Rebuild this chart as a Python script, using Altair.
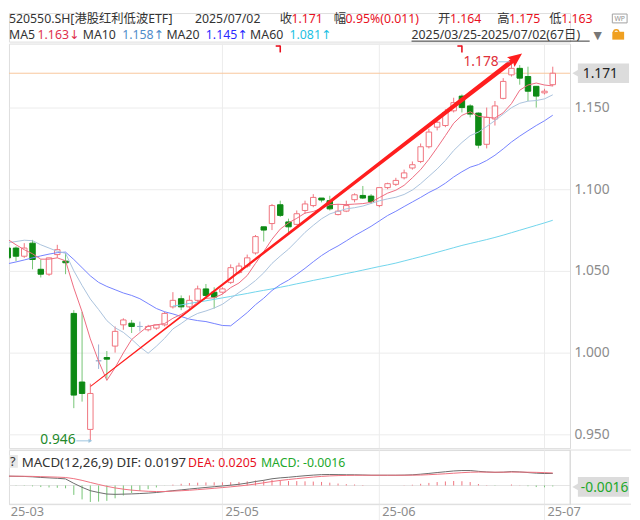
import math
import altair as alt
import pandas as pd

# ---------------- data ----------------
opens = [1.064, 1.064, 1.059, 1.067, 1.051, 1.048, 1.060, 1.056, 1.024, 0.982,
         0.953, 0.995, 0.997, 1.004, 1.017, 1.018, 1.016, 1.014, 1.015, 1.017,
         1.028, 1.033, 1.028, 1.032, 1.039, 1.037, 1.037, 1.043, 1.049, 1.053,
         1.061, 1.077, 1.079, 1.0905, 1.080, 1.0785, 1.087, 1.090, 1.0946, 1.093,
         1.0845, 1.0866, 1.0936, 1.0962, 1.0958, 1.090, 1.101, 1.103, 1.107, 1.113,
         1.117, 1.126, 1.138, 1.139, 1.148, 1.157, 1.151, 1.1466, 1.1275, 1.143,
         1.1556, 1.170, 1.174, 1.169, 1.163, 1.159, 1.164]
highs = [1.066, 1.065, 1.067, 1.069, 1.057, 1.058, 1.066, 1.061, 1.026, 1.025,
         0.981, 1.005, 1.001, 1.016, 1.021, 1.020, 1.019, 1.017, 1.017, 1.025,
         1.037, 1.035, 1.035, 1.041, 1.042, 1.040, 1.040, 1.054, 1.055, 1.060,
         1.072, 1.077, 1.091, 1.093, 1.082, 1.087, 1.093, 1.097, 1.0946, 1.096,
         1.091, 1.093, 1.0975, 1.102, 1.097, 1.101, 1.104, 1.107, 1.112, 1.117,
         1.128, 1.137, 1.143, 1.149, 1.156, 1.158, 1.152, 1.147, 1.150, 1.154,
         1.168, 1.178, 1.176, 1.175, 1.163, 1.1615, 1.175]
lows = [1.057, 1.056, 1.058, 1.051, 1.046, 1.047, 1.058, 1.048, 0.966, 0.970,
        0.946, 0.990, 0.984, 1.000, 1.014, 1.012, 1.013, 1.013, 1.014, 1.016,
        1.027, 1.026, 1.026, 1.031, 1.034, 1.027, 1.036, 1.042, 1.048, 1.052,
        1.060, 1.068, 1.075, 1.083, 1.073, 1.078, 1.085, 1.089, 1.092, 1.087,
        1.084, 1.086, 1.092, 1.094, 1.091, 1.089, 1.100, 1.102, 1.106, 1.112,
        1.116, 1.125, 1.136, 1.138, 1.147, 1.147, 1.144, 1.125, 1.125, 1.139,
        1.155, 1.169, 1.164, 1.154, 1.150, 1.158, 1.163]
closes = [1.058, 1.059, 1.064, 1.057, 1.048, 1.058, 1.063, 1.055, 0.974, 0.975,
          0.975, 0.995, 0.996, 1.013, 1.020, 1.016, 1.016, 1.016, 1.017, 1.024,
          1.032, 1.028, 1.032, 1.039, 1.035, 1.034, 1.039, 1.052, 1.053, 1.058,
          1.071, 1.075, 1.090, 1.084, 1.077, 1.085, 1.091, 1.095, 1.0934, 1.088,
          1.0866, 1.090, 1.0966, 1.0946, 1.0924, 1.101, 1.1034, 1.1054, 1.110, 1.115,
          1.126, 1.135, 1.141, 1.147, 1.153, 1.150, 1.146, 1.127, 1.144, 1.151,
          1.166, 1.174, 1.168, 1.160, 1.157, 1.160, 1.171]

ma5 = [1.0693, 1.066, 1.063, 1.0605, 1.0572, 1.0572, 1.058, 1.0562, 1.0396, 1.025,
       1.0084, 0.9948, 0.983, 0.9908, 0.9998, 1.008, 1.0122, 1.0162, 1.017, 1.0178,
       1.021, 1.0234, 1.0266, 1.031, 1.0332, 1.0336, 1.0358, 1.0398, 1.0426, 1.0472,
       1.0546, 1.0618, 1.0694, 1.0756, 1.0794, 1.0822, 1.0854, 1.0864, 1.0883, 1.0905,
       1.0908, 1.0906, 1.0909, 1.0912, 1.092, 1.0949, 1.0976, 1.0994, 1.1024, 1.107,
       1.112, 1.1183, 1.1254, 1.1328, 1.1404, 1.1452, 1.1474, 1.1446, 1.144, 1.1436,
       1.1468, 1.1524, 1.1606, 1.1638, 1.165, 1.1638, 1.1632]
ma10 = [1.0673, 1.068, 1.0688, 1.0685, 1.066, 1.064, 1.062, 1.0608, 1.0501, 1.0411,
        1.0328, 1.0264, 1.0196, 1.0152, 1.0124, 1.0082, 1.0035, 0.9996, 1.0039, 1.0088,
        1.0145, 1.0178, 1.0214, 1.024, 1.0255, 1.0273, 1.0296, 1.0332, 1.0368, 1.0402,
        1.0441, 1.0488, 1.0546, 1.0591, 1.0633, 1.0684, 1.0736, 1.0779, 1.0819, 1.0849,
        1.0865, 1.088, 1.0887, 1.0897, 1.0913, 1.0929, 1.0941, 1.0951, 1.0968, 1.0995,
        1.1034, 1.1079, 1.1124, 1.1176, 1.1237, 1.1286, 1.1328, 1.135, 1.1384, 1.142,
        1.146, 1.1499, 1.1526, 1.1539, 1.1543, 1.1553, 1.1578]
ma20 = [1.0544, 1.0555, 1.0567, 1.058, 1.0592, 1.0603, 1.0612, 1.0615, 1.057, 1.052,
        1.047, 1.043, 1.0405, 1.0385, 1.0365, 1.035, 1.033, 1.030, 1.027, 1.025,
        1.0237, 1.0221, 1.0205, 1.0196, 1.019, 1.0178, 1.0166, 1.0164, 1.0204, 1.0245,
        1.0293, 1.0333, 1.038, 1.0416, 1.0444, 1.0479, 1.0516, 1.0556, 1.0594, 1.0626,
        1.0653, 1.0684, 1.0716, 1.0744, 1.0773, 1.0806, 1.0839, 1.0865, 1.0894, 1.0922,
        1.095, 1.098, 1.1005, 1.1037, 1.1075, 1.1107, 1.1135, 1.1151, 1.1176, 1.1208,
        1.1247, 1.1289, 1.1325, 1.1358, 1.139, 1.1419, 1.1453]
ma60_start = 20
ma60 = [1.0285, 1.0292, 1.0301, 1.0309, 1.0317, 1.0326, 1.0335, 1.0344, 1.0353, 1.0362,
        1.0372, 1.0381, 1.039, 1.040, 1.041, 1.0421, 1.0431, 1.0442, 1.0452, 1.0462,
        1.0473, 1.0484, 1.0494, 1.0505, 1.0516, 1.0527, 1.0537, 1.0548, 1.0561, 1.0574,
        1.0587, 1.060, 1.0614, 1.0628, 1.0642, 1.0656, 1.0668, 1.068, 1.0692, 1.0705,
        1.0719, 1.0734, 1.0749, 1.0764, 1.0779, 1.0794, 1.081]

dif = [0.0153, 0.0150, 0.0148, 0.0142, 0.0132, 0.0125, 0.0118, 0.0108, 0.0035, -0.0030,
       -0.0085, -0.0115, -0.0140, -0.0145, -0.0142, -0.0138, -0.0132, -0.0125, -0.0115, -0.0100,
       -0.0085, -0.0072, -0.0058, -0.0045, -0.0032, -0.0020, -0.0008, 0.0005, 0.0020, 0.0040,
       0.0065, 0.0085, 0.0110, 0.0125, 0.0135, 0.0148, 0.0160, 0.0170, 0.0178, 0.0180,
       0.0178, 0.0176, 0.0175, 0.0172, 0.0168, 0.0168, 0.0168, 0.0168, 0.0170, 0.0175,
       0.0185, 0.0198, 0.0212, 0.0225, 0.0238, 0.0245, 0.0245, 0.0232, 0.0222, 0.0215,
       0.0218, 0.0228, 0.0222, 0.0212, 0.0202, 0.0196, 0.0197]
dea = [0.0153, 0.0152, 0.0151, 0.0149, 0.0145, 0.0141, 0.0137, 0.0131, 0.0112, 0.0084,
       0.0050, 0.0017, -0.0014, -0.0040, -0.0060, -0.0076, -0.0087, -0.0095, -0.0099, -0.0099,
       -0.0092, -0.0086, -0.0078, -0.0068, -0.0057, -0.0046, -0.0034, -0.0022, -0.0009, 0.0006,
       0.0024, 0.0044, 0.0065, 0.0083, 0.0098, 0.0112, 0.0126, 0.0138, 0.0149, 0.0157,
       0.0162, 0.0165, 0.0167, 0.0168, 0.0168, 0.0168, 0.0168, 0.0168, 0.0168, 0.0169,
       0.0171, 0.0177, 0.0184, 0.0192, 0.0201, 0.0210, 0.0217, 0.0220, 0.0219, 0.0218,
       0.0218, 0.0220, 0.0220, 0.0218, 0.0215, 0.0211, 0.0205]
macd = [0.0, -0.0004, -0.0006, -0.0014, -0.0026, -0.0032, -0.0038, -0.0046, -0.0154, -0.0228,
        -0.027, -0.0264, -0.0252, -0.021, -0.0164, -0.0124, -0.009, -0.006, -0.0032, -0.0002,
        0.0014, 0.0028, 0.004, 0.0046, 0.005, 0.0052, 0.0052, 0.0054, 0.0058, 0.0068,
        0.0082, 0.0082, 0.009, 0.0084, 0.0074, 0.0072, 0.0068, 0.0064, 0.0058, 0.0046,
        0.0032, 0.0022, 0.0016, 0.0008, 0.0, 0.0, 0.0, 0.0, 0.0004, 0.0012,
        0.0028, 0.0042, 0.0056, 0.0066, 0.0074, 0.007, 0.0056, 0.0024, 0.0006, -0.0006,
        0.0, 0.0016, 0.0004, -0.0012, -0.0026, -0.003, -0.0016]

price_ticks = [0.95, 1.0, 1.05, 1.1, 1.15]
month_labels = ["25-03", "25-05", "25-06", "25-07"]
month_index = [0, 26, 45, 65]
event_index = [33, 55]
last_close = 1.171
low_mark = (10, 0.946)
high_mark = (61, 1.178)
arrow_from = (10.07, 0.9795)
arrow_to = (62.28, 1.1831)

# ---------------- styles / layout ----------------
FONT = "Noto Sans, DejaVu Sans, Noto Sans CJK SC"
RED_C = "#f0737d"
GREEN_C = "#0d8a14"
GREEN_W = "#74c474"
DOJI_C = "#9db4d4"
MA5C, MA10C, MA20C, MA60C = "#ee6a7e", "#a9c2dc", "#7381ff", "#6fd4ec"
DARK = "#333333"
TRED = "#e8101e"
GRID = "#ececec"
AXL = "#8c8c8c"

W = 570
STEP = 8.39
X0 = 0.15
XDOM = [X0, X0 + W / STEP]
PH = 411
PPX = 1660.0
PDOM = [1.15 - (PH - 65) / PPX, 1.15 + 65 / PPX]
MH = 55
MPX = 620.0
MZ = 36
MDOM = [-(MH - MZ) / MPX, MZ / MPX]

xs = alt.Scale(domain=XDOM, nice=False, zero=False)
ys = alt.Scale(domain=PDOM, nice=False, zero=False)
ms = alt.Scale(domain=MDOM, nice=False, zero=False)
YAX = alt.Axis(orient="right", values=price_ticks, format=".3f", title=None,
               grid=True, gridColor=GRID, ticks=False, domain=True, domainColor="#dadada",
               labelColor=AXL, labelFontSize=14, labelFont=FONT, labelPadding=4)


def X(f):
    return alt.X(f, scale=xs, axis=None)


def Y(f):
    return alt.Y(f, scale=ys, axis=YAX)


def kind(o, c):
    if c > o:
        return "up"
    if c < o:
        return "down"
    return "flat"


n = len(closes)
candles = pd.DataFrame({"i": list(range(n)), "open": opens, "high": highs,
                        "low": lows, "close": closes})
candles["kind"] = [kind(o, c) for o, c in zip(opens, closes)]
KD = ["up", "down", "flat"]


def one():
    return alt.Chart(pd.DataFrame({"a": [0]}))


def ptext(t, px, py, color, size=13, align="left", baseline="alphabetic"):
    return alt.Chart(pd.DataFrame({"t": [t]})).mark_text(
        align=align, baseline=baseline, color=color, fontSize=size, font=FONT
    ).encode(x=alt.value(px), y=alt.value(py), text="t:N")


def prect(x1, x2, y1, y2, color):
    return one().mark_rect(color=color).encode(
        x=alt.value(x1), x2=alt.value(x2), y=alt.value(y1), y2=alt.value(y2))


def prule(x1, x2, y1, y2, color, w=1):
    return one().mark_rule(color=color, strokeWidth=w).encode(
        x=alt.value(x1), x2=alt.value(x2), y=alt.value(y1), y2=alt.value(y2))


# ---------------- header ----------------
HB1, HB2 = 10, 26
HF = 12.5
header_parts = [
    ("520550.SH[港股红利低波ETF]", 0, HB1, DARK),
    ("2025/07/02", 189, HB1, DARK),
    ("收", 275, HB1, DARK), ("1.171", 287, HB1, TRED),
    ("幅", 330, HB1, DARK), ("0.95%(0.011)", 342, HB1, TRED),
    ("开", 436, HB1, DARK), ("1.164", 448, HB1, TRED),
    ("高", 496, HB1, DARK), ("1.175", 508, HB1, TRED),
    ("低", 549, HB1, DARK), ("1.163", 561, HB1, TRED),
    ("MA5", 0, HB2, DARK), ("1.163↓", 29, HB2, "#e0304e"),
    ("MA10", 75, HB2, DARK), ("1.158↑", 115, HB2, "#4f8cc9"),
    ("MA20", 160, HB2, DARK), ("1.145↑", 200, HB2, "#2a2aff"),
    ("MA60", 245, HB2, DARK), ("1.081↑", 285, HB2, "#22bfe3"),
    ("2025/03/25-2025/07/02(67日)", 409, HB2, DARK),
]
hdf = pd.DataFrame(header_parts, columns=["t", "px", "py", "col"])
header_text = alt.Chart(hdf).mark_text(align="left", baseline="alphabetic",
                                       fontSize=HF, font=FONT).encode(
    x=alt.X("px:Q", scale=None, axis=None),
    y=alt.Y("py:Q", scale=None, axis=None),
    text="t:N",
    color=alt.Color("col:N", scale=None),
)
wp_icon = one().mark_rect(filled=False, stroke="#a0a0a0", strokeWidth=1).encode(
    x=alt.value(613), x2=alt.value(628), y=alt.value(1), y2=alt.value(10))
header = alt.layer(
    header_text,
    ptext("▼", 594, HB2, "#777777", size=11),
    prule(409, 590, 28.5, 28.5, DARK),
    wp_icon,
    ptext("WP", 620.5, 8.5, "#909090", size=7, align="center"),
    one().mark_arc(radius=3.4, radius2=1.8, theta=4.7124, theta2=7.854,
                   color="#f0a020").encode(x=alt.value(617), y=alt.value(19.5)),
    prect(613, 625, 19, 27, "#f0a020"),
).properties(width=W, height=29)

# ---------------- price panel ----------------
vgrid_df = pd.DataFrame({"i": month_index[1:]})
vgrid = alt.Chart(vgrid_df).mark_rule(color=GRID, strokeWidth=1).encode(x=X("i:Q"))

last_line = alt.Chart(pd.DataFrame({"p": [last_close]})).mark_rule(
    color="#f8c69c", strokeWidth=1).encode(y=Y("p:Q"))

wick = alt.Chart(candles).mark_rule(strokeWidth=1, clip=True).encode(
    x=X("i:Q"), y=Y("low:Q"), y2="high:Q",
    color=alt.Color("kind:N", scale=alt.Scale(domain=KD, range=[RED_C, GREEN_W, DOJI_C]),
                    legend=None),
)
body = alt.Chart(candles).transform_calculate(
    xl="datum.i - 0.33", xr="datum.i + 0.33"
).mark_rect(strokeWidth=1, clip=True).encode(
    x=X("xl:Q"), x2="xr:Q",
    y=Y("open:Q"), y2="close:Q",
    fill=alt.Fill("kind:N", scale=alt.Scale(domain=KD, range=["#ffffff", GREEN_C, DOJI_C]),
                  legend=None),
    stroke=alt.Stroke("kind:N", scale=alt.Scale(domain=KD, range=[RED_C, GREEN_C, DOJI_C]),
                      legend=None),
)


def ma_layer(vals, start, color):
    df = pd.DataFrame({"i": list(range(start, start + len(vals))), "v": vals})
    return alt.Chart(df).mark_line(color=color, strokeWidth=1, clip=True).encode(
        x=X("i:Q"), y=Y("v:Q"))


ma_layers = [ma_layer(ma60, ma60_start, MA60C), ma_layer(ma20, 0, MA20C),
             ma_layer(ma10, 0, MA10C), ma_layer(ma5, 0, MA5C)]

# event markers at the top of the panel
ev_df = pd.DataFrame({"i": event_index, "il": [k - 0.55 for k in event_index]})
ev_v = alt.Chart(ev_df).mark_rule(color="#e8101e", strokeWidth=1.6).encode(
    x=X("i:Q"), y=alt.value(2), y2=alt.value(9))
ev_h = alt.Chart(ev_df).mark_rule(color="#e8101e", strokeWidth=1.6).encode(
    x=X("il:Q"), x2="i:Q", y=alt.value(2.5))

# tapered hand-drawn arrow
ux = (arrow_to[0] - arrow_from[0]) * STEP
uy = (arrow_to[1] - arrow_from[1]) * PPX
ul = (ux ** 2 + uy ** 2) ** 0.5
trail_df = pd.DataFrame({
    "i": [arrow_from[0], arrow_to[0] - 10 * ux / ul / STEP],
    "p": [arrow_from[1], arrow_to[1] - 10 * uy / ul / PPX],
    "w": [1.0, 4.8],
})
trail = alt.Chart(trail_df).mark_trail(color="#ff1e1e").encode(
    x=X("i:Q"), y=Y("p:Q"), size=alt.Size("w:Q", scale=None, legend=None))
ang = math.degrees(math.atan2(ux, uy))
head = alt.Chart(pd.DataFrame({"i": [arrow_to[0]], "p": [arrow_to[1]]})).mark_point(
    shape="M0,0L0.62,1.45L0,1.2L-0.62,1.45Z", size=400, filled=True, opacity=1,
    color="#ff1e1e", angle=ang, strokeWidth=0).encode(x=X("i:Q"), y=Y("p:Q"))

lowdf = pd.DataFrame({"i": [low_mark[0]], "p": [low_mark[1]], "t": ["0.946"],
                      "il": [low_mark[0] - 1.7]})
low_txt = alt.Chart(lowdf).mark_text(align="right", baseline="middle", dx=-15, dy=-1,
                                     color="#23892a", fontSize=14, font=FONT).encode(
    x=X("i:Q"), y=Y("p:Q"), text="t:N")
low_arr = alt.Chart(lowdf).mark_rule(color="#9cc4de", strokeWidth=1).encode(
    x=X("il:Q"), x2="i:Q", y=Y("p:Q"))
low_head = alt.Chart(lowdf).mark_point(shape="triangle-right", size=18, filled=True,
                                       color="#9cc4de", opacity=1, dx=-2).encode(
    x=X("i:Q"), y=Y("p:Q"))

highdf = pd.DataFrame({"i": [high_mark[0]], "p": [high_mark[1]], "t": ["1.178"],
                       "il": [high_mark[0] - 1.6], "ir": [high_mark[0] - 0.2]})
high_txt = alt.Chart(highdf).mark_text(align="right", baseline="middle", dx=-13, dy=0,
                                       color="#e0303a", fontSize=14, font=FONT).encode(
    x=X("i:Q"), y=Y("p:Q"), text="t:N")
high_line = alt.Chart(highdf).mark_rule(color="#9cc4de", strokeWidth=1).encode(
    x=X("il:Q"), x2="ir:Q", y=Y("p:Q"))

last_py = (PDOM[1] - last_close) * PPX
last_box = alt.layer(
    one().mark_point(shape="triangle-left", size=70, filled=True,
                     color="#dcdcdc", opacity=1).encode(x=alt.value(576), y=alt.value(last_py)),
    prect(578, 630, last_py - 10, last_py + 10, "#dcdcdc"),
    ptext("1.171", 583, last_py + 5, "#222222", size=14),
)

price = alt.layer(vgrid, last_line, wick, body, *ma_layers, ev_v, ev_h, trail, head,
                  low_arr, low_head, low_txt, high_line, high_txt, last_box
                  ).properties(width=W, height=PH)

# ---------------- MACD panel ----------------
mdf = pd.DataFrame({"i": list(range(n)), "dif": dif, "dea": dea, "m": macd})
mdf["sign"] = ["pos" if v >= 0 else "neg" for v in macd]
mvgrid = alt.Chart(vgrid_df).mark_rule(color=GRID, strokeWidth=1).encode(
    x=X("i:Q"), y=alt.value(0), y2=alt.value(MH + 16))
zero = alt.Chart(pd.DataFrame({"z": [0.0]})).mark_rule(color="#e4e4e4").encode(
    y=alt.Y("z:Q", scale=ms, axis=None))
hist = alt.Chart(mdf).mark_rule(strokeWidth=1, clip=True).encode(
    x=X("i:Q"),
    y=alt.Y("m:Q", scale=ms, axis=None), y2=alt.datum(0),
    color=alt.Color("sign:N", scale=alt.Scale(domain=["pos", "neg"],
                                              range=["#f39aa0", "#6cc86c"]), legend=None))
dif_line = alt.Chart(mdf).mark_line(color="#6a6a6a", strokeWidth=1, clip=True).encode(
    x=X("i:Q"), y=alt.Y("dif:Q", scale=ms, axis=None))
dea_line = alt.Chart(mdf).mark_line(color="#f0707e", strokeWidth=1, clip=True).encode(
    x=X("i:Q"), y=alt.Y("dea:Q", scale=ms, axis=None))

MB = 17
macd_labels = [
    prect(0, 9, 5, 18, "#e8e8e8"),
    ptext("?", 1, MB - 0.5, DARK),
    ptext("MACD(12,26,9) DIF: 0.0197", 13, MB, DARK, size=13.5),
    ptext("DEA: 0.0205", 182, MB, TRED, size=12.5),
    ptext("MACD: -0.0016", 256, MB, "#22a82a", size=12.5),
]
mbox_y = MZ + 1.5
macd_box = [
    one().mark_point(shape="triangle-left", size=70, filled=True,
                     color="#dcdcdc", opacity=1).encode(x=alt.value(576), y=alt.value(mbox_y)),
    prect(578, 630, mbox_y - 10, mbox_y + 10, "#dcdcdc"),
    ptext("-0.0016", 581, mbox_y + 5, "#22a82a", size=14),
]
xlab = []
for lab, k in zip(month_labels, month_index):
    px = max(0.0, (k - X0) * STEP + 3)
    xlab.append(ptext(lab, px, MH + 12, AXL, size=13))

borders = [
    prule(0, 632, 0, 0, "#dedede"),
    prule(0, 632, MH, MH, "#dedede"),
    prule(W, W, 0, MH, "#dadada"),
]

macd_panel = alt.layer(mvgrid, zero, hist, dif_line, dea_line, *macd_labels, *macd_box,
                       *xlab, *borders).properties(width=W, height=MH)

chart = alt.vconcat(header, price, macd_panel, spacing=0).properties(
    padding={"left": 0, "top": 0, "right": 0, "bottom": 0}
).configure_view(strokeWidth=0).configure(background="#ffffff")

chart.save("out.html", embed_options={"renderer": "svg", "actions": False})
